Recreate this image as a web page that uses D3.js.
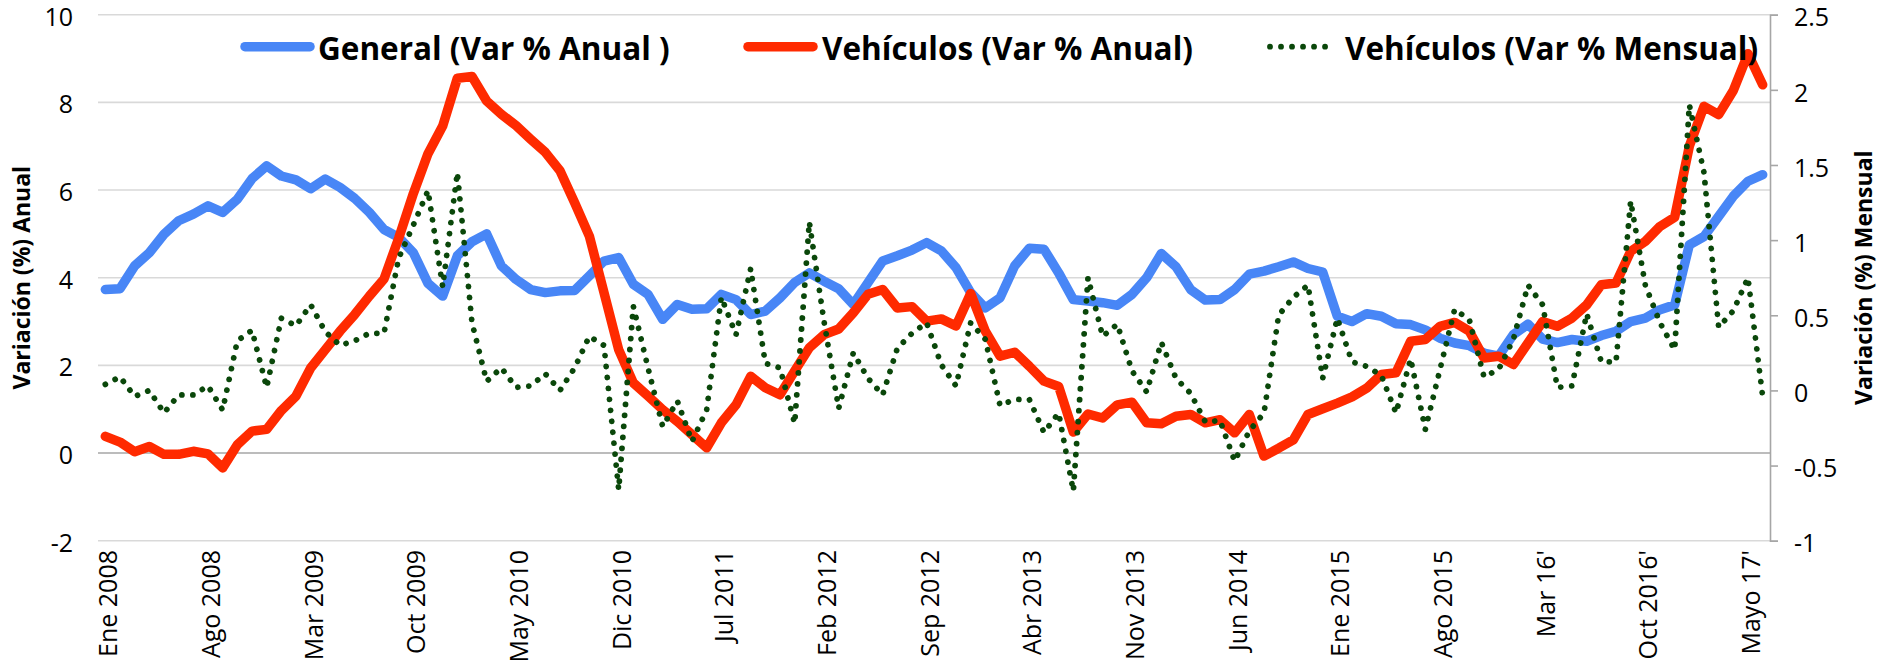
<!DOCTYPE html>
<html>
<head>
<meta charset="utf-8">
<script src="https://cdn.jsdelivr.net/npm/d3@7"></script>
<style>
  body { margin: 0; background: #ffffff; }
  #main { width: 1893px; height: 667px; }
  svg text { font-family: "Open Sans", sans-serif; fill: #000; }
</style>
</head>
<body>
<div id="main"></div>
<script>
// meses Ene 2008 .. Jul 2017 (114 puntos)
const MES = ["Ene", "Feb", "Mar", "Abr", "May", "Jun", "Jul", "Ago", "Sep", "Oct", "Nov", "Dic"];
const months = d3.range(114).map(i => MES[i % 12] + " " + (2008 + Math.floor(i / 12)));

const tickLabels = ["Ene 2008", "Ago 2008", "Mar 2009", "Oct 2009", "May 2010", "Dic 2010",
    "Jul 2011", "Feb 2012", "Sep 2012", "Abr 2013", "Nov 2013", "Jun 2014", "Ene 2015",
    "Ago 2015", "Mar 16'", "Oct 2016'", "Mayo 17'"];
const tickMonths = ["Ene 2008", "Ago 2008", "Mar 2009", "Oct 2009", "May 2010", "Dic 2010",
    "Jul 2011", "Feb 2012", "Sep 2012", "Abr 2013", "Nov 2013", "Jun 2014", "Ene 2015",
    "Ago 2015", "Mar 2016", "Oct 2016", "May 2017"];

const leftTicks = [-2, 0, 2, 4, 6, 8, 10];
const rightTicks = [-1, -0.5, 0, 0.5, 1, 1.5, 2, 2.5];

const generalAnual = [
    3.73, 3.75, 4.27, 4.57, 4.99, 5.30, 5.45, 5.64, 5.49, 5.79,
    6.26, 6.55, 6.32, 6.23, 6.03, 6.25, 6.06, 5.81, 5.49, 5.10,
    4.92, 4.57, 3.87, 3.58, 4.50, 4.82, 5.00, 4.27, 3.96, 3.73,
    3.66, 3.70, 3.71, 4.04, 4.38, 4.46, 3.85, 3.62, 3.05, 3.39,
    3.28, 3.29, 3.62, 3.50, 3.16, 3.24, 3.54, 3.89, 4.11, 3.92,
    3.75, 3.39, 3.89, 4.38, 4.50, 4.63, 4.80, 4.61, 4.23, 3.66,
    3.31, 3.54, 4.27, 4.67, 4.65, 4.11, 3.50, 3.47, 3.43, 3.37,
    3.62, 4.00, 4.55, 4.25, 3.73, 3.49, 3.50, 3.73, 4.08, 4.15,
    4.25, 4.36, 4.21, 4.13, 3.12, 3.00, 3.18, 3.12, 2.95, 2.93,
    2.81, 2.62, 2.51, 2.45, 2.28, 2.21, 2.70, 2.94, 2.60, 2.52,
    2.59, 2.55, 2.68, 2.78, 3.00, 3.08, 3.27, 3.38, 4.75, 4.94,
    5.40, 5.86, 6.20, 6.35
];

const vehiculosAnual = [
    0.38, 0.25, 0.03, 0.15, -0.03, -0.03, 0.04, -0.02, -0.34, 0.19,
    0.50, 0.54, 0.97, 1.30, 1.94, 2.36, 2.78, 3.16, 3.58, 3.97,
    4.90, 5.92, 6.83, 7.46, 8.55, 8.59, 8.03, 7.73, 7.47, 7.16,
    6.86, 6.44, 5.71, 4.95, 3.66, 2.36, 1.60, 1.30, 0.99, 0.72,
    0.42, 0.12, 0.69, 1.10, 1.75, 1.49, 1.33, 1.87, 2.40, 2.70,
    2.83, 3.20, 3.62, 3.73, 3.31, 3.34, 3.01, 3.06, 2.90, 3.64,
    2.78, 2.21, 2.30, 1.98, 1.64, 1.52, 0.48, 0.89, 0.80, 1.10,
    1.16, 0.69, 0.67, 0.84, 0.88, 0.69, 0.76, 0.46, 0.88, -0.07,
    0.11, 0.30, 0.88, 1.01, 1.14, 1.28, 1.48, 1.79, 1.83, 2.55,
    2.59, 2.89, 2.98, 2.78, 2.17, 2.21, 2.02, 2.51, 3.00, 2.89,
    3.08, 3.38, 3.84, 3.88, 4.60, 4.83, 5.17, 5.38, 7.00, 7.91,
    7.72, 8.27, 9.11, 8.40
];

const vehiculosMensual = [
    0.04, 0.09, -0.04, 0.00, -0.15, -0.03, -0.03, 0.03, -0.13, 0.33,
    0.40, 0.02, 0.48, 0.43, 0.57, 0.39, 0.30, 0.33, 0.38, 0.38,
    0.88, 1.10, 1.33, 0.69, 1.45, 0.45, 0.06, 0.15, 0.02, 0.03,
    0.11, 0.00, 0.15, 0.36, 0.30, -0.66, 0.56, 0.15, -0.24, -0.07,
    -0.34, -0.13, 0.62, 0.37, 0.81, 0.18, 0.15, -0.22, 1.12, 0.46,
    -0.12, 0.25, 0.08, -0.03, 0.28, 0.38, 0.45, 0.17, 0.03, 0.45,
    0.34, -0.10, -0.06, -0.06, -0.28, -0.15, -0.67, 0.75, 0.36, 0.44,
    0.13, -0.01, 0.32, 0.08, -0.02, -0.21, -0.20, -0.47, -0.27, -0.15,
    0.50, 0.62, 0.70, 0.08, 0.48, 0.19, 0.16, 0.10, -0.15, 0.21,
    -0.26, 0.14, 0.54, 0.47, 0.09, 0.14, 0.34, 0.70, 0.57, 0.02,
    0.03, 0.51, 0.19, 0.19, 1.26, 0.70, 0.45, 0.27, 1.90, 1.45,
    0.42, 0.53, 0.75, -0.04
];

const chartCtx = {
    WIDTH: 1893,
    HEIGHT: 667,
    LEFT: 98,
    RIGHT: 1770,
    TOP: 14.7,
    BOTTOM: 540.7,
    BLUE: "#4886f6",
    RED: "#ff2a00",
    GREEN: "#0a470a",
    GRID: "#d9d9d9",
    AXIS: "#a6a6a6",
    LINE_W: 9.5,
    DOT_W: 5.8,
    DOTS: "0.01 11"
};

function drawChart() {

    const svg = d3.select("#main").append("svg")
        .attr("width", chartCtx.WIDTH)
        .attr("height", chartCtx.HEIGHT);

    const x = d3.scalePoint()
        .domain(months)
        .range([chartCtx.LEFT, chartCtx.RIGHT])
        .padding(0.5);

    const yL = d3.scaleLinear().domain([-2, 10]).range([chartCtx.BOTTOM, chartCtx.TOP]);
    const yR = d3.scaleLinear().domain([-1, 2.5]).range([chartCtx.BOTTOM, chartCtx.TOP]);

    // gridlines
    svg.append("g").selectAll("line")
        .data(leftTicks)
        .enter().append("line")
        .attr("x1", chartCtx.LEFT).attr("x2", chartCtx.RIGHT)
        .attr("y1", d => yL(d)).attr("y2", d => yL(d))
        .attr("stroke", d => d === 0 ? chartCtx.AXIS : chartCtx.GRID)
        .attr("stroke-width", 1.6);

    // left tick labels
    svg.append("g").selectAll("text")
        .data(leftTicks)
        .enter().append("text")
        .attr("x", 73)
        .attr("y", d => yL(d))
        .attr("dy", "0.44em")
        .attr("text-anchor", "end")
        .style("font-size", "25px")
        .text(d => d);

    // right axis
    const rightAxis = d3.axisRight(yR)
        .tickValues(rightTicks)
        .tickSize(8)
        .tickPadding(16)
        .tickFormat(d => d);

    const gR = svg.append("g")
        .attr("transform", `translate(${chartCtx.RIGHT},0)`)
        .call(rightAxis);
    gR.select(".domain").attr("stroke", chartCtx.AXIS).attr("stroke-width", 1.6);
    gR.selectAll(".tick line").attr("stroke", chartCtx.AXIS).attr("stroke-width", 1.6);
    gR.selectAll(".tick text")
        .attr("dy", "0.45em")
        .style("font-family", "'Open Sans', sans-serif")
        .style("font-size", "25px")
        .attr("fill", "#000");

    // x labels, rotated
    svg.append("g").selectAll("g")
        .data(tickLabels)
        .enter().append("g")
        .attr("transform", (d, i) => `translate(${x(tickMonths[i])},550) rotate(-90)`)
        .append("text")
        .attr("text-anchor", "end")
        .attr("dy", 12)
        .style("font-size", "25px")
        .text(d => d);

    // axis titles
    svg.append("text")
        .attr("transform", `translate(23,${(chartCtx.TOP + chartCtx.BOTTOM) / 2}) rotate(-90)`)
        .attr("text-anchor", "middle")
        .attr("dy", "0.3em")
        .style("font-size", "23px")
        .style("font-weight", "bold")
        .text("Variación (%) Anual");

    svg.append("text")
        .attr("transform", `translate(1865,${(chartCtx.TOP + chartCtx.BOTTOM) / 2}) rotate(-90)`)
        .attr("text-anchor", "middle")
        .attr("dy", "0.3em")
        .style("font-size", "23px")
        .style("font-weight", "bold")
        .text("Variación (%) Mensual");

    // series
    const lineL = d3.line().x((d, i) => x(months[i])).y(d => yL(d));
    const lineR = d3.line().x((d, i) => x(months[i])).y(d => yR(d));

    svg.append("path")
        .datum(generalAnual)
        .attr("d", lineL)
        .attr("fill", "none")
        .attr("stroke", chartCtx.BLUE)
        .attr("stroke-width", chartCtx.LINE_W)
        .attr("stroke-linejoin", "round")
        .attr("stroke-linecap", "round");

    svg.append("path")
        .datum(vehiculosAnual)
        .attr("d", lineL)
        .attr("fill", "none")
        .attr("stroke", chartCtx.RED)
        .attr("stroke-width", chartCtx.LINE_W)
        .attr("stroke-linejoin", "round")
        .attr("stroke-linecap", "round");

    svg.append("path")
        .datum(vehiculosMensual)
        .attr("d", lineR)
        .attr("fill", "none")
        .attr("stroke", chartCtx.GREEN)
        .attr("stroke-width", chartCtx.DOT_W)
        .attr("stroke-dasharray", chartCtx.DOTS)
        .attr("stroke-linecap", "round");

    // legend
    const legend = [
        { label: "General (Var % Anual )", color: chartCtx.BLUE, x1: 245, x2: 310, tx: 318, dotted: false },
        { label: "Vehículos (Var % Anual)", color: chartCtx.RED, x1: 748, x2: 813, tx: 822, dotted: false },
        { label: "Vehículos (Var % Mensual)", color: chartCtx.GREEN, x1: 1270, x2: 1332, tx: 1345, dotted: true }
    ];

    const lg = svg.append("g").selectAll("g")
        .data(legend)
        .enter().append("g");

    lg.append("line")
        .attr("x1", d => d.x1).attr("x2", d => d.x2)
        .attr("y1", 46.7).attr("y2", 46.7)
        .attr("stroke", d => d.color)
        .attr("stroke-width", d => d.dotted ? chartCtx.DOT_W : chartCtx.LINE_W)
        .attr("stroke-dasharray", d => d.dotted ? chartCtx.DOTS : null)
        .attr("stroke-linecap", "round");

    lg.append("text")
        .attr("x", d => d.tx)
        .attr("y", 60)
        .style("font-size", "31.5px")
        .style("font-weight", "bold")
        .text(d => d.label);
}

drawChart();
</script>
</body>
</html>
